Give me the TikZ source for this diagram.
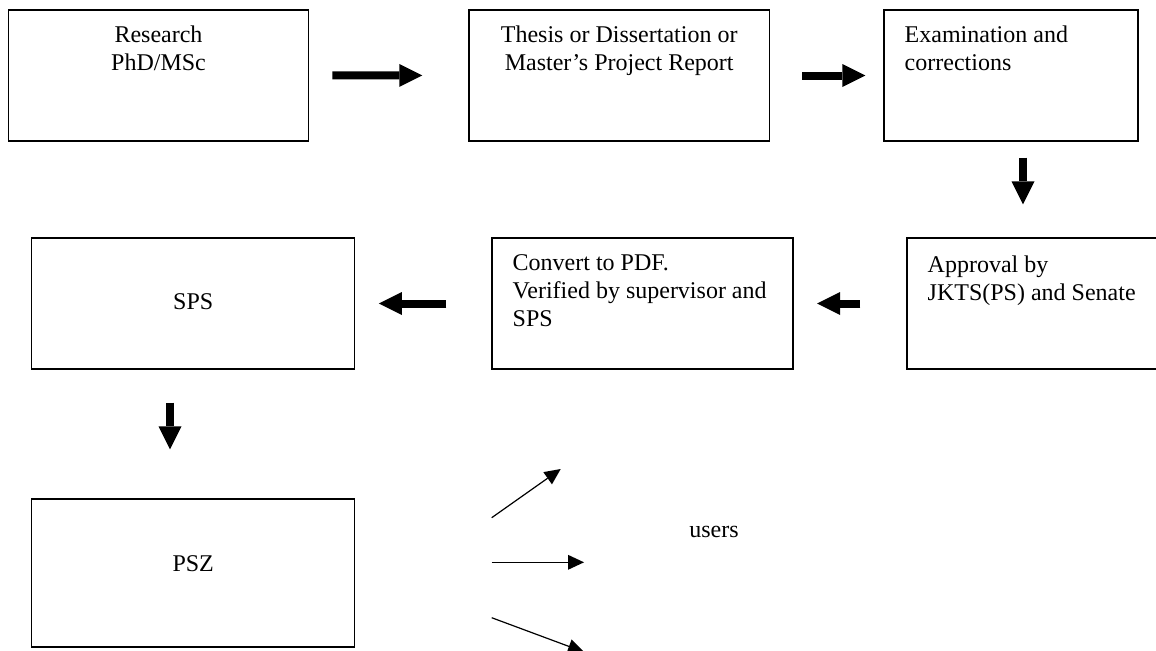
\documentclass[tikz,border=0pt]{standalone}
\usepackage{fontspec}
\setmainfont{Liberation Serif}
\usetikzlibrary{arrows.meta, calc}

\tikzset{
  stagebox/.style={draw, line width=0.7pt, inner sep=0pt},
  stagetext/.style={inner sep=0pt, font=\fontsize{12pt}{13.85pt}\selectfont},
  bigarrow/.style={line width=4pt, -{Triangle[width=11.5pt, length=11.5pt, line width=0pt]}},
  thinarrow/.style={line width=0.6pt, -{Triangle[width=7.5pt, length=8pt, line width=0pt]}}
}

\begin{document}
\begin{tikzpicture}[x=0.5pt, y=-0.5pt]
  \useasboundingbox (0, 0) rectangle (1156, 650);

  % boxes
  \node[stagebox, minimum width=150.2pt, minimum height=65.4pt] (research) at (158.5, 75.4) {};
  \node[stagebox, minimum width=150.2pt, minimum height=65.5pt] (thesis) at (619.2, 75.5) {};
  \node[stagebox, minimum width=127pt, minimum height=65.5pt] (exam) at (1011, 75.5) {};
  \node[stagebox, minimum width=150pt, minimum height=65.5pt] (approval) at (1057, 303.5) {};
  \node[stagebox, minimum width=150.4pt, minimum height=65.5pt] (convert) at (642.4, 303.5) {};
  \node[stagebox, minimum width=161.5pt, minimum height=65.5pt] (sps) at (193.2, 303.5) {};
  \node[stagebox, minimum width=161.5pt, minimum height=74pt] (psz) at (193.2, 573) {};

  % texts (base = last line)
  \node[stagetext, anchor=base, align=center] (research text) at ($(research.north)+(0, 61)$) {Research\\PhD/MSc};
  \node[stagetext, anchor=base, align=center] (thesis text) at ($(thesis.north)+(0, 61)$) {Thesis or Dissertation or\\Master’s Project Report};
  \node[stagetext, anchor=base west, align=left] (exam text) at ($(exam.north west)+(21, 61)$) {Examination and\\corrections};
  \node[stagetext, anchor=base west, align=left] (approval text) at ($(approval.north west)+(21, 63)$) {Approval by\\JKTS(PS) and Senate};
  \node[stagetext, anchor=base west, align=left] (convert text) at ($(convert.north west)+(21, 89)$) {Convert to PDF.\\Verified by supervisor and\\SPS};
  \node[stagetext, anchor=base] (sps text) at ($(sps.center)+(0, 5.5)$) {SPS};
  \node[stagetext, anchor=base] (psz text) at ($(psz.center)+(0, -2)$) {PSZ};
  \node[stagetext] (users) at (714, 532) {users};

  % flow
  \draw[bigarrow, shorten <=11.5pt, shorten >=23pt] (research) -- (thesis);
  \draw[bigarrow, shorten <=16pt, shorten >=9pt] (thesis) -- (exam);
  \draw[bigarrow, shorten <=8pt, shorten >=16.5pt] ([xshift=6pt]exam.south) -- ([xshift=6pt]exam.south |- approval.north);
  \draw[bigarrow, shorten <=23pt, shorten >=11.8pt] (approval) -- (convert);
  \draw[bigarrow, shorten <=22.5pt, shorten >=11.7pt] (convert) -- (sps);
  \draw[bigarrow, shorten <=16.5pt, shorten >=24.5pt] ([xshift=-11.6pt]sps.south) -- ([xshift=-11.6pt]psz.north);

  % to users
  \coordinate (fan a) at (491.7, 517.7);
  \coordinate (fan b) at (491.7, 562.3);
  \coordinate (fan c) at (491.7, 617.7);
  \coordinate (user a) at (560.7, 469);
  \coordinate (user b) at (584, 562.3);
  \coordinate (user c) at (584, 652);
  \draw[thinarrow] (fan a) -- (user a);
  \draw[thinarrow] (fan b) -- (user b);
  \draw[thinarrow] (fan c) -- (user c);
\end{tikzpicture}
\end{document}
